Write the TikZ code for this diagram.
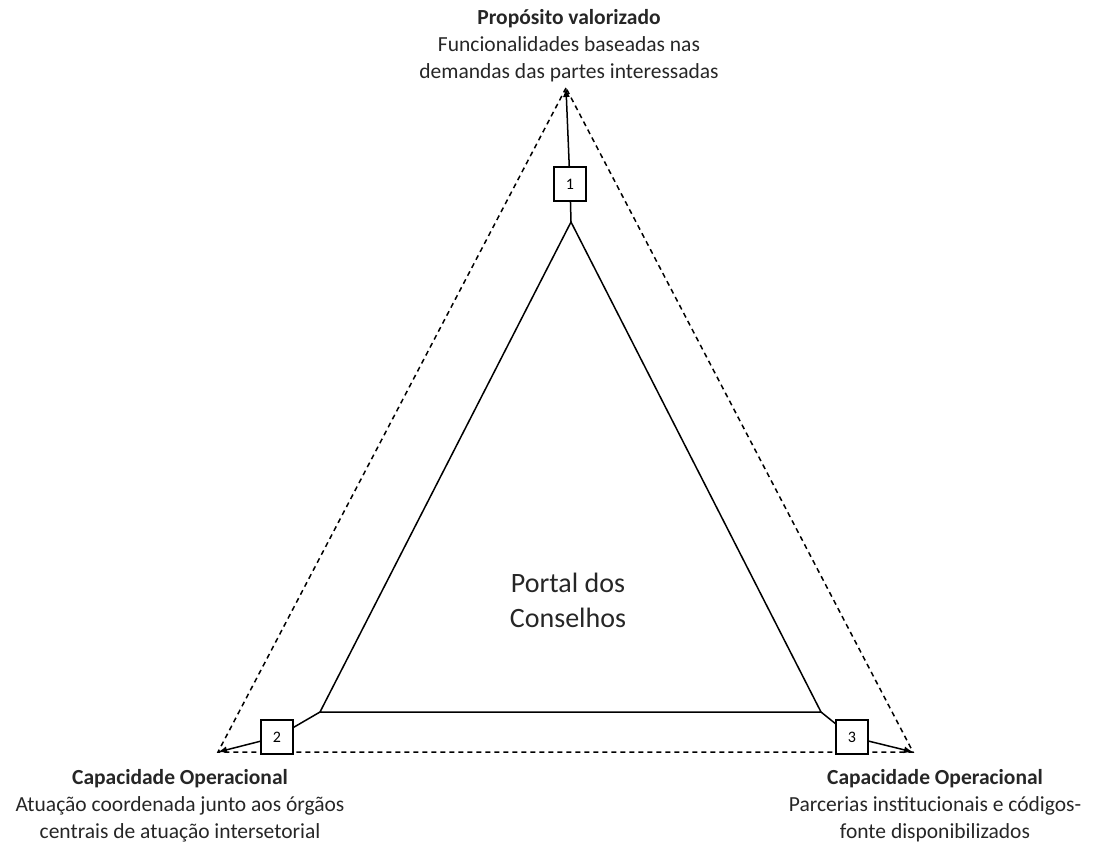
\documentclass[tikz,border=0pt]{standalone}
\usepackage{fontspec}
\setmainfont{Carlito}
\usetikzlibrary{arrows.meta}

\begin{document}
\begin{tikzpicture}[x=1pt,y=-1pt,>={Latex[length=9pt,width=7pt]},line width=1.5pt,
                    num node/.style={rectangle,draw,fill=white,line width=1.3pt,minimum width=32pt,minimum height=34pt,font=\fontsize{16}{18}\selectfont},
                    label node/.style={align=center,text=black!85,font=\fontsize{21.5}{27}\selectfont}]
  \useasboundingbox (0,0) rectangle (1099,843);
  % outer corners
  \coordinate (top) at (566,88);
  \coordinate (left) at (218,752);
  \coordinate (right) at (913,752);
  % inner triangle
  \coordinate (i0) at (571,222);
  \coordinate (i1) at (320,712);
  \coordinate (i2) at (821,712);
  \draw[dash pattern=on 5pt off 4pt] (top) -- (left) -- (right) -- cycle;
  \draw (i0) -- (i1) -- (i2) -- cycle;
  \node[num node] (1) at (570,184) {1};
  \node[num node] (2) at (277,737) {2};
  \node[num node] (3) at (852,737) {3};
  \path
    (i0) edge (1)
    (1) edge [->] (top)
    (i1) edge (2)
    (2) edge [->] (left)
    (i2) edge (3)
    (3) edge [->] (right);
  \node[label node,font=\fontsize{28}{35}\selectfont] (center) at (568,600) {Portal dos\\Conselhos};
  \node[label node] (goal) at (569,46) {\textbf{Propósito valorizado}\\Funcionalidades baseadas nas\\demandas das partes interessadas};
  \node[label node] (cap1) at (180,806) {\textbf{Capacidade Operacional}\\Atuação coordenada junto aos órgãos\\centrais de atuação intersetorial};
  \node[label node] (cap2) at (935,806) {\textbf{Capacidade Operacional}\\Parcerias institucionais e códigos-\\fonte disponibilizados};
\end{tikzpicture}
\end{document}
